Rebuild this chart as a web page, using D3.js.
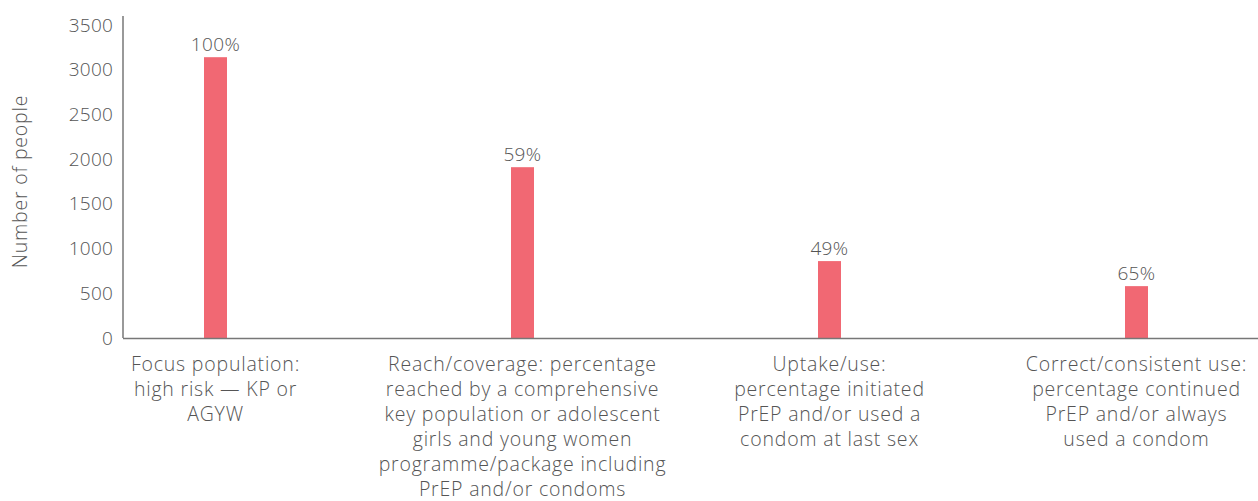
<!DOCTYPE html>
<html>
<head>
<meta charset="utf-8">
<script src="https://cdn.jsdelivr.net/npm/d3@7"></script>
<style>
  body { margin: 0; background: #fff; }
  svg text { font-family: "Open Sans", Lato, sans-serif; font-weight: 300; fill: #555; }
</style>
</head>
<body>
<svg id="chart" width="1258" height="501"></svg>
<script>
const categories = [
  ["Focus population:", "high risk \u2014 KP or", "AGYW"],
  ["Reach/coverage: percentage", "reached by a comprehensive", "key population or adolescent", "girls and young women", "programme/package including", "PrEP and/or condoms"],
  ["Uptake/use:", "percentage initiated", "PrEP and/or used a", "condom at last sex"],
  ["Correct/consistent use:", "percentage continued", "PrEP and/or always", "used a condom"]
];
const values = [3140, 1910, 860, 580];
const percentLabels = ["100%", "59%", "49%", "65%"];
const yTicks = [0, 500, 1000, 1500, 2000, 2500, 3000, 3500];
const yTitle = "Number of people";

const svg = d3.select("#chart");
const axisX0 = 123, axisX1 = 1258;
const yTop = 25, yBase = 338;

const x = d3.scaleBand().domain(d3.range(categories.length)).range([62, 1290]).padding(0);
const y = d3.scaleLinear().domain([0, 3500]).range([yBase, yTop]);
const barW = 23;

// y axis
const yAxis = d3.axisLeft(y).tickValues(yTicks).tickSize(0).tickPadding(10).tickFormat(d3.format("d"));
const gy = svg.append("g").attr("transform", `translate(${axisX0},0)`).call(yAxis);
gy.select(".domain").attr("stroke", "#777").attr("stroke-width", 1.5).attr("d", `M0,${yTop - 9}V${yBase}`);
gy.selectAll("text").style("font-size", "19px").attr("fill", "#555")
  .style("font-family", "'Open Sans', sans-serif").style("font-weight", 300)
  .style("letter-spacing", "0.2px");

// bars
svg.append("g").selectAll("rect").data(values).join("rect")
  .attr("x", (d, i) => x(i) + x.bandwidth() / 2 - barW / 2)
  .attr("y", d => y(d))
  .attr("width", barW)
  .attr("height", d => y(0) - y(d))
  .attr("fill", "#F16873");

// x axis line
svg.append("line").attr("x1", axisX0).attr("x2", axisX1).attr("y1", yBase + 0.5).attr("y2", yBase + 0.5)
  .attr("stroke", "#777").attr("stroke-width", 1.5);

// percent labels
svg.append("g").selectAll("text").data(values).join("text")
  .attr("x", (d, i) => x(i) + x.bandwidth() / 2)
  .attr("y", d => y(d) - 6)
  .attr("text-anchor", "middle")
  .style("font-size", "19px")
  .style("letter-spacing", "0.4px")
  .text((d, i) => percentLabels[i]);

// category labels
const cat = svg.append("g").selectAll("text").data(categories).join("text")
  .attr("x", (d, i) => x(i) + x.bandwidth() / 2)
  .attr("y", 371)
  .attr("text-anchor", "middle")
  .style("font-size", "19.5px")
  .style("letter-spacing", "0.8px");
cat.each(function(lines, i) {
  d3.select(this).selectAll("tspan").data(lines).join("tspan")
    .attr("x", x(i) + x.bandwidth() / 2)
    .attr("dy", (d, j) => j === 0 ? 0 : 25)
    .text(d => d);
});

// y title
svg.append("text")
  .attr("transform", `translate(27,${(yTop + yBase) / 2}) rotate(-90)`)
  .attr("text-anchor", "middle")
  .style("font-size", "19.5px")
  .style("letter-spacing", "0.8px")
  .text(yTitle);
</script>
</body>
</html>
